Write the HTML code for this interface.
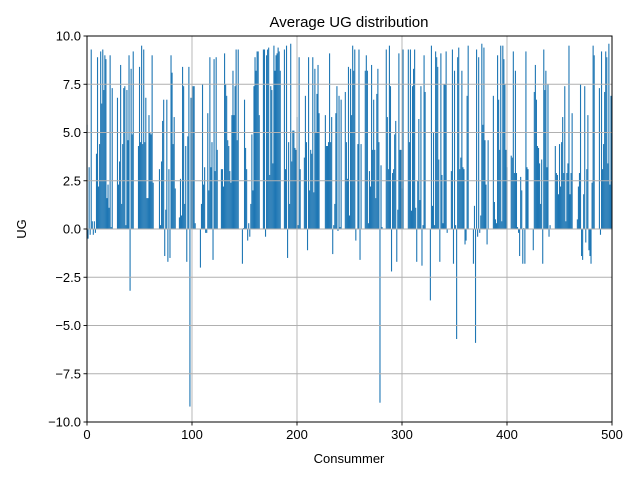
<!DOCTYPE html>
<html><head><meta charset="utf-8"><style>
body{margin:0;background:#fff;}
svg text{font-family:"Liberation Sans","DejaVu Sans",sans-serif;}
</style></head><body>
<svg id="c" width="640" height="480" xmlns="http://www.w3.org/2000/svg">
<rect width="640" height="480" fill="#fff"/>
<g id="bars"></g>
<g id="grid"></g>
<rect x="87" y="36" width="525" height="386" fill="none" stroke="#000" stroke-width="1"/>
<g id="ticks"></g>
<text x="349" y="27" text-anchor="middle" font-size="15">Average UG distribution</text>
<text x="349" y="463" text-anchor="middle" font-size="13">Consummer</text>
<text transform="translate(26,229) rotate(-90)" text-anchor="middle" font-size="13">UG</text>
</svg>
<script>
const xTicks=[0,100,200,300,400,500];
const yTicks=[-10,-7.5,-5,-2.5,0,2.5,5,7.5,10];
const yTickLabels=["\u221210.0","\u22127.5","\u22125.0","\u22122.5","0.0","2.5","5.0","7.5","10.0"];
const values=[5.4,-0.5,3.2,-0.3,9.3,0.4,-0.3,0.4,-0.2,3.9,8.9,2.2,4.4,9.2,6.5,9.3,7.2,9.0,8.8,1.6,2.3,1.1,9.0,0.1,7.3,0,0,0,0,6.8,2.3,3.5,8.5,1.3,4.4,7.3,7.4,0.2,7.2,4.6,9.0,-3.2,8.3,4.9,9.2,0,0,0,0,4.3,8.4,4.5,9.5,4.4,9.3,4.5,6.8,1.6,1.6,5.9,5.0,4.9,9.0,2.4,0,0,0,0,0,3.1,0.2,3.5,5.6,6.7,-1.4,1.0,6.7,-1.7,3.1,-1.5,9.0,8.1,4.4,5.8,2.1,0,0,0,0.6,2.6,0.7,8.4,7.4,1.3,4.3,-1.7,4.8,8.4,-9.2,6.8,
6.8,7.4,7.4,0.3,0,0,0,0,-2.0,1.3,7.5,2.3,3.2,-0.2,-0.2,6.0,2.0,8.9,3.2,4.5,-1.6,8.8,3.0,8.9,4.1,0,0,0,3.1,3.1,2.2,9.1,7.5,6.9,4.6,4.3,3.0,2.4,5.9,8.2,5.9,7.4,9.3,4.6,9.3,0,0,0,-1.8,0.05,6.7,4.2,3.1,-0.6,0.3,-0.4,1.3,4.9,2.0,7.4,8.9,8.2,9.2,9.2,5.9,0,0,0,9.3,9.3,-0.4,9.0,9.3,9.4,2.8,7.4,7.2,3.4,9.5,8.2,9.0,9.1,9.4,9.2,8.2,0,0,0,9.3,3.1,9.5,-1.5,4.5,1.3,9.6,3.5,5.1,5.1,4.2,4.1,
5.8,0.2,8.9,3.1,0,0,0,3.7,6.9,4.5,-1.1,8.9,2.0,4.1,3.9,8.9,1.9,8.3,5.0,7.0,8.5,6.0,0,0,0,0,0,5.9,4.3,4.3,4.5,9.1,4.5,5.8,-1.3,0.2,1.3,6.0,7.4,-0.1,6.9,0.1,6.7,0,0,0,7.1,4.5,2.6,8.4,0.7,8.3,5.9,9.5,8.2,9.3,-0.6,0,4.4,9.3,-1.6,4.4,0,0,0,8.2,9.0,8.2,0.3,3.0,2.2,8.5,4.1,6.7,4.1,1.6,7.0,8.3,4.5,-9.0,3.3,0.1,0,0,0,9.3,5.8,3.1,9.5,7.4,-2.2,2.9,3.1,4.9,5.6,-1.7,1.0,9.1,4.1,4.1,
2.1,9.3,0,0,0,0,9.3,4.5,9.3,0.95,7.4,8.3,9.3,1.1,-1.7,2.5,5.7,1.5,7.4,-1.9,0.2,9.0,7.1,0,0,0,0,-3.7,9.5,1.2,5.0,0.2,9.2,8.9,8.4,3.6,-1.7,9.1,2.8,0.3,7.5,7.5,9.2,-0.2,0,0,0,3.0,9.3,-1.8,8.2,0.2,-5.7,8.9,9.4,3.1,3.7,8.2,3.2,3.1,-0.8,-0.6,6.9,9.5,0,0,0,0,-1.8,1.2,-5.9,9.3,-0.4,8.9,-0.2,0.7,9.6,5.4,9.4,4.6,2.3,-0.8,4.6,0,0,0,0,6.9,1.4,0.5,0.3,9.0,6.7,4.1,9.5,0.4,9.5,8.8,7.5,4.1,
3.2,0,0,0,3.8,3.7,9.2,2.9,8.2,2.9,0.1,-0.2,-1.4,2.7,2.0,-1.8,0.05,-1.8,9.2,3.2,3.1,0,0,0,0,-1.1,7.1,8.5,6.7,4.3,4.2,3.4,1.3,3.6,-1.8,9.3,7.2,8.2,3.2,7.5,-0.4,0.2,0,0,0,0,4.3,2.9,2.8,1.8,4.4,2.2,4.5,5.8,2.9,7.4,0.4,2.9,3.4,9.5,1.8,2.9,6.0,0,0,0,0,0.5,2.2,2.9,7.5,-1.4,-1.6,1.8,7.4,-0.7,3.1,5.9,-1.1,-1.4,-1.8,2.4,9.5,9.0,0,0,0,0,7.3,-0.3,9.2,3.1,4.4,7.1,9.2,8.9,3.4,9.6,2.3,6.9];
const X0=87,X1=612,Y0=422,Y1=36;
const sx=v=>X0+(v-0)/(500-0)*(X1-X0);
const sy=v=>Y0-(v+10)/20*(Y0-Y1);
const NS="http://www.w3.org/2000/svg";
const bars=document.getElementById('bars');
values.forEach((v,i)=>{
  const r=document.createElementNS(NS,'rect');
  const x=sx(i-0.5),w=sx(i+0.55)-x;
  const y=Math.min(sy(v),sy(0)),h=Math.abs(sy(v)-sy(0));
  r.setAttribute('x',x);r.setAttribute('y',y);r.setAttribute('width',w);r.setAttribute('height',Math.max(h,0));
  r.setAttribute('fill','#1f77b4');
  
  
  bars.appendChild(r);
});
const grid=document.getElementById('grid'),ticks=document.getElementById('ticks');
function line(p,x1,y1,x2,y2,c,name){const l=document.createElementNS(NS,'line');l.setAttribute('x1',x1);l.setAttribute('y1',y1);l.setAttribute('x2',x2);l.setAttribute('y2',y2);l.setAttribute('stroke',c);l.setAttribute('stroke-width','0.9');


p.appendChild(l);}
function text(p,x,y,s,anchor,name){const t=document.createElementNS(NS,'text');t.setAttribute('x',x);t.setAttribute('y',y);t.setAttribute('font-size','13');t.setAttribute('text-anchor',anchor);t.textContent=s;


p.appendChild(t);}
xTicks.forEach(t=>{const x=sx(t);line(grid,x,Y1,x,Y0,'#b0b0b0','x-grid-line');line(ticks,x,Y0,x,Y0+3.5,'#000','x-tick');text(ticks,x,Y0+17,String(t),'middle','x-tick-label');});
yTicks.forEach((t,i)=>{const y=sy(t);line(grid,X0,y,X1,y,'#b0b0b0','y-grid-line');line(ticks,X0-3.5,y,X0,y,'#000','y-tick');text(ticks,X0-6,y+4.5,yTickLabels[i],'end','y-tick-label');});
</script>
</body></html>
